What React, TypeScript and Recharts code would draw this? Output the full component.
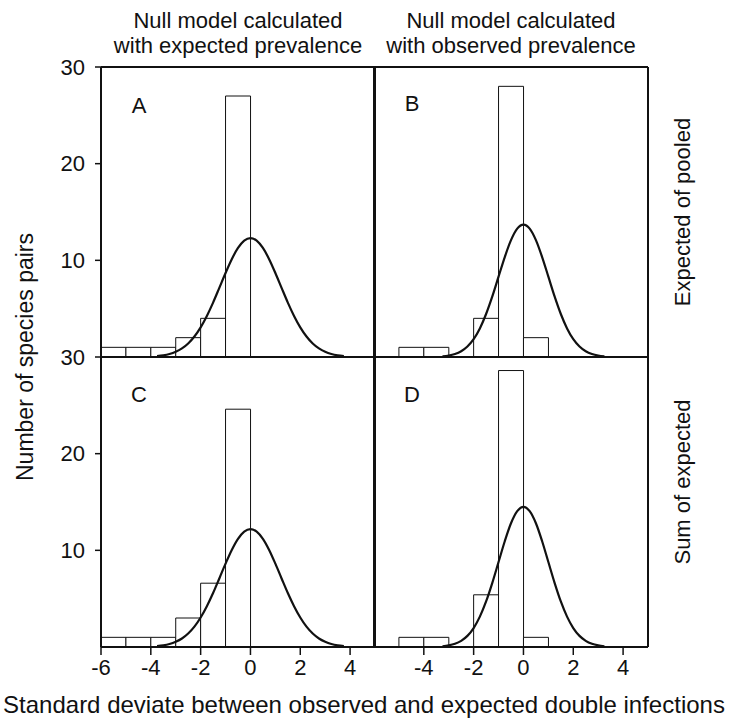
import React from "react";
import { Bar, ComposedChart, Line, XAxis, YAxis } from "recharts";

// histogram bins are one unit wide, keyed by their centre
const binCenters = [-5.5, -4.5, -3.5, -2.5, -1.5, -0.5, 0.5];
const countsA = [1, 1, 1, 2, 4, 27, 0];
const countsB = [0, 1, 1, 0, 4, 28, 2];
const countsC = [1, 1, 1, 3, 6.6, 24.6, 0];
const countsD = [0, 1, 1, 0, 5.4, 28.6, 1];

// fitted normal curves
const wideX = [
  -3.75, -3.5, -3.25, -3, -2.75, -2.5, -2.25, -2, -1.75, -1.5, -1.25, -1, -0.75, -0.5, -0.25, 0,
  0.25, 0.5, 0.75, 1, 1.25, 1.5, 1.75, 2, 2.25, 2.5, 2.75, 3, 3.25, 3.5, 3.75,
];
const narrowX = [
  -3.25, -3, -2.75, -2.5, -2.25, -2, -1.75, -1.5, -1.25, -1, -0.75, -0.5, -0.25, 0,
  0.25, 0.5, 0.75, 1, 1.25, 1.5, 1.75, 2, 2.25, 2.5, 2.75, 3, 3.25,
];
const curveA = [
  0.09, 0.17, 0.31, 0.54, 0.89, 1.4, 2.12, 3.07, 4.25, 5.63, 7.15, 8.69, 10.12, 11.28, 12.04, 12.3,
  12.04, 11.28, 10.12, 8.69, 7.15, 5.63, 4.25, 3.07, 2.12, 1.4, 0.89, 0.54, 0.31, 0.17, 0.09,
];
const curveB = [
  0.07, 0.15, 0.31, 0.6, 1.09, 1.85, 2.96, 4.45, 6.27, 8.31, 10.34, 12.09, 13.28, 13.7,
  13.28, 12.09, 10.34, 8.31, 6.27, 4.45, 2.96, 1.85, 1.09, 0.6, 0.31, 0.15, 0.07,
];
const curveC = [
  0.09, 0.17, 0.31, 0.54, 0.88, 1.39, 2.1, 3.05, 4.22, 5.58, 7.09, 8.62, 10.04, 11.19, 11.94, 12.2,
  11.94, 11.19, 10.04, 8.62, 7.09, 5.58, 4.22, 3.05, 2.1, 1.39, 0.88, 0.54, 0.31, 0.17, 0.09,
];
const curveD = [
  0.07, 0.16, 0.33, 0.64, 1.15, 1.96, 3.14, 4.71, 6.64, 8.79, 10.94, 12.8, 14.05, 14.5,
  14.05, 12.8, 10.94, 8.79, 6.64, 4.71, 3.14, 1.96, 1.15, 0.64, 0.33, 0.16, 0.07,
];

const xTicksLeft = [-6, -4, -2, 0, 2, 4];
const xTicksRight = [-4, -2, 0, 2, 4];
const yTicks = [10, 20, 30];

const FONT = "'Liberation Sans', Arial, Helvetica, sans-serif";
const INK = "#111";
const frame = { stroke: INK, strokeWidth: 2 };
const tickStyle = { fontSize: 22, fill: INK, fontFamily: FONT };

type PanelProps = {
  counts: number[];
  curveX: number[];
  curveY: number[];
  left: number;
  top: number;
  yLabels: boolean;
  xTicks: number[] | null;
};

function Panel({ counts, curveX, curveY, left, top, yLabels, xTicks }: PanelProps) {
  const bins = binCenters.map((x, i) => ({ x, n: counts[i] }));
  const curve = curveX.map((x, i) => ({ x, y: curveY[i] }));
  return (
    <div style={{ position: "absolute", left, top }}>
      <ComposedChart
        width={335}
        height={351}
        data={bins}
        margin={{ top: 20, right: 0, bottom: 0, left: 0 }}
        barCategoryGap={0}
        barGap={0}
      >
        <XAxis
          dataKey="x"
          type="number"
          domain={[-6, 5]}
          ticks={xTicks ?? []}
          interval={0}
          height={40}
          axisLine={frame}
          tick={xTicks ? tickStyle : false}
          tickLine={xTicks ? { stroke: INK, strokeWidth: 1.5 } : false}
          tickSize={8}
          tickMargin={4}
        />
        {/* top and right edges of the frame */}
        <XAxis
          xAxisId="curve"
          orientation="top"
          dataKey="x"
          type="number"
          domain={[-6, 5]}
          height={1}
          axisLine={frame}
          tick={false}
          tickLine={false}
        />
        <YAxis
          type="number"
          domain={[0, 30]}
          ticks={yTicks}
          interval={0}
          width={60}
          axisLine={frame}
          tick={yLabels ? tickStyle : false}
          tickLine={yLabels ? { stroke: INK, strokeWidth: 1.5 } : false}
          tickSize={6}
          tickMargin={10}
        />
        <YAxis
          yAxisId="right"
          orientation="right"
          type="number"
          domain={[0, 30]}
          width={1}
          axisLine={frame}
          tick={false}
          tickLine={false}
        />
        <Bar dataKey="n" fill="#fff" stroke={INK} strokeWidth={1} isAnimationActive={false} />
        <Line
          data={curve}
          xAxisId="curve"
          dataKey="y"
          type="monotone"
          stroke={INK}
          strokeWidth={2.2}
          dot={false}
          isAnimationActive={false}
        />
      </ComposedChart>
    </div>
  );
}

export default function App() {
  const txt = { fontFamily: FONT, fontSize: 22, fill: INK };
  return (
    <div style={{ position: "absolute", left: 0, top: 0, width: 729, height: 722, background: "#fff" }}>
      <Panel counts={countsA} curveX={wideX} curveY={curveA} left={41} top={46} yLabels xTicks={null} />
      <Panel counts={countsB} curveX={narrowX} curveY={curveB} left={314} top={46} yLabels={false} xTicks={null} />
      <Panel counts={countsC} curveX={wideX} curveY={curveC} left={41} top={336} yLabels xTicks={xTicksLeft} />
      <Panel counts={countsD} curveX={narrowX} curveY={curveD} left={314} top={336} yLabels={false} xTicks={xTicksRight} />
      <svg width={729} height={722} style={{ position: "absolute", left: 0, top: 0, pointerEvents: "none" }}>
        <text {...txt} x={238} y={28} textAnchor="middle">Null model calculated</text>
        <text {...txt} x={238} y={53} textAnchor="middle">with expected prevalence</text>
        <text {...txt} x={511} y={28} textAnchor="middle">Null model calculated</text>
        <text {...txt} x={511} y={53} textAnchor="middle">with observed prevalence</text>
        <text {...txt} x={139} y={113} textAnchor="middle">A</text>
        <text {...txt} x={412} y={111} textAnchor="middle">B</text>
        <text {...txt} x={139} y={402} textAnchor="middle">C</text>
        <text {...txt} x={412} y={402} textAnchor="middle">D</text>
        <text {...txt} fontSize={23} transform="translate(33,357) rotate(-90)" textAnchor="middle">Number of species pairs</text>
        <text {...txt} transform="translate(690,212) rotate(-90)" textAnchor="middle">Expected of pooled</text>
        <text {...txt} transform="translate(690,482) rotate(-90)" textAnchor="middle">Sum of expected</text>
        <text {...txt} fontSize={24} x={364} y={713} textAnchor="middle">Standard deviate between observed and expected double infections</text>
      </svg>
    </div>
  );
}
